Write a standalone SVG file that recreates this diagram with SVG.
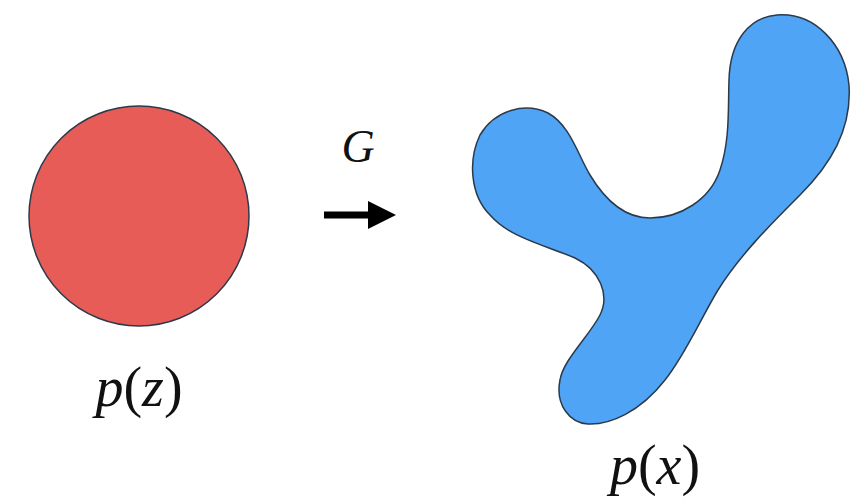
<svg xmlns="http://www.w3.org/2000/svg" width="859" height="500" viewBox="0 0 859 500">
<style>
.lbl{font-family:"Liberation Serif","DejaVu Serif",serif;fill:#111;}
.it{font-style:italic;}
.shape{stroke:#2b3a4a;stroke-width:1.5;}
</style>
<rect width="859" height="500" fill="#fff"/>
<g id="pz">
<circle class="shape" cx="139" cy="216" r="110" fill="#e85c58"/>
<text class="lbl" x="139" y="406" font-size="56" text-anchor="middle"><tspan class="it">p</tspan>(<tspan class="it">z</tspan>)</text>
</g>
<g id="px">
<path class="shape" fill="#4fa4f6" d="M 777 15 C 815 12, 845 45, 849 85 C 852 130, 830 165, 800 195 C 770 225, 740 255, 718 290 C 700 320, 685 355, 665 380 C 640 412, 610 425, 588 424 C 570 423, 555 405, 560 380 C 563 360, 590 335, 600 315 C 610 295, 600 270, 575 258 C 545 245, 510 238, 490 215 C 470 195, 468 160, 480 135 C 495 110, 525 102, 548 113 C 570 125, 578 155, 590 175 C 605 200, 625 218, 650 218 C 680 218, 710 200, 720 170 C 730 140, 728 110, 729 80 C 730 40, 750 17, 777 15 Z"/>
<text class="lbl" x="655" y="484" font-size="56" text-anchor="middle"><tspan class="it">p</tspan>(<tspan class="it">x</tspan>)</text>
</g>
<g id="connectors">
<line x1="324" y1="215" x2="374" y2="215" stroke="#000" stroke-width="7"/>
<polygon points="368,201 396,215 368,229" fill="#000"/>
<text class="lbl it" x="358" y="162" font-size="46" text-anchor="middle">G</text>
</g>
</svg>
